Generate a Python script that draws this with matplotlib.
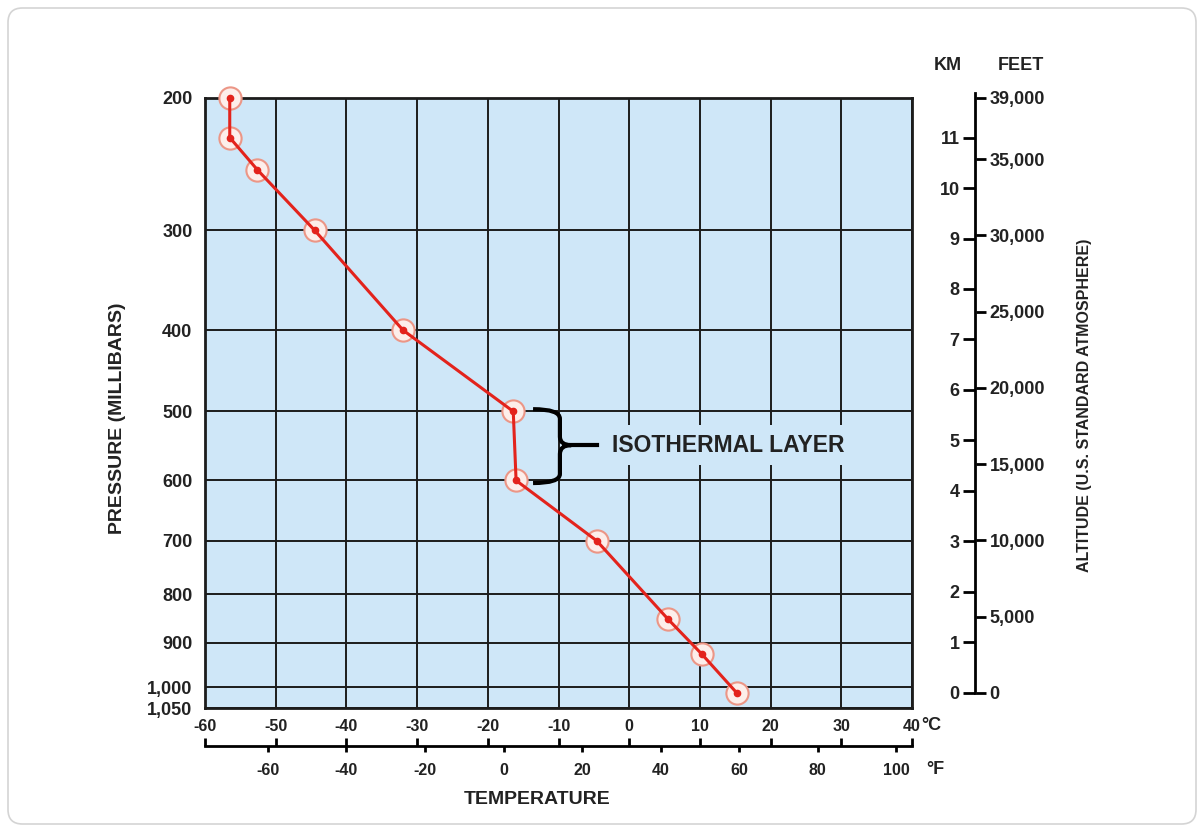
import numpy as np
import matplotlib
matplotlib.use("Agg")
import matplotlib.pyplot as plt
from matplotlib.path import Path
from matplotlib.patches import PathPatch, FancyBboxPatch

plt.rcParams['font.family'] = ['Liberation Sans', 'DejaVu Sans']
plt.rcParams['font.weight'] = 'bold'

# sounding (standard atmosphere profile)
temps_c = [-56.5, -56.5, -52.6, -44.5, -32.0, -16.4, -16.0, -4.6, 5.5, 10.3, 15.2]
pressures = [200, 226.3, 250, 300, 400, 500, 600, 700, 850, 925, 1013.25]

p_ticks = [200, 300, 400, 500, 600, 700, 800, 900, 1000, 1050]
p_labels = ['200', '300', '400', '500', '600', '700', '800', '900', '1,000', '1,050']
c_ticks = [-60, -50, -40, -30, -20, -10, 0, 10, 20, 30, 40]
f_ticks = [-60, -40, -20, 0, 20, 40, 60, 80, 100]
km_ticks = list(range(0, 12))
ft_ticks = [0, 5000, 10000, 15000, 20000, 25000, 30000, 35000, 39000]

RED = '#e3231c'
BG = '#cfe7f8'
INK = '#222222'


def p_to_km(p):
    p = np.clip(np.asarray(p, float), 1e-6, None)
    tropo = 44.3308 * (1 - (p / 1013.25) ** 0.190263)
    strat = 11.0 + 6.3416 * np.log(226.32 / p)
    return np.where(p >= 226.32, tropo, strat)


def km_to_p(h):
    h = np.asarray(h, float)
    tropo = 1013.25 * np.clip(1 - h / 44.3308, 1e-9, None) ** (1 / 0.190263)
    strat = 226.32 * np.exp(-(h - 11.0) / 6.3416)
    return np.where(h <= 11.0, tropo, strat)


# increasing versions for the axis scale (axis is then inverted)
def fwd(p):
    return -p_to_km(p)


def inv(d):
    return km_to_p(-np.asarray(d, float))


W, H = 1204, 832
fig = plt.figure(figsize=(W / 100, H / 100), dpi=100)
fig.patches.append(FancyBboxPatch((8 / W, 8 / H), 1188 / W, 816 / H,
                                  boxstyle='round,pad=0,rounding_size=0.012',
                                  transform=fig.transFigure, fc='none',
                                  ec='#d4d4d4', lw=1.2, mutation_aspect=W / H))

x0, x1, y0, y1 = 205, 912, 98, 708
ax = fig.add_axes([x0 / W, 1 - y1 / H, (x1 - x0) / W, (y1 - y0) / H])
ax.set_facecolor(BG)
ax.set_yscale('function', functions=(fwd, inv))
ax.set_ylim(1050, 200)
ax.set_xlim(-60, 40)
ax.set_yticks(p_ticks, p_labels)
ax.yaxis.set_minor_locator(plt.NullLocator())
ax.set_xticks(c_ticks, [str(t) for t in c_ticks])
ax.tick_params(axis='y', length=0, pad=9, labelsize=13, labelcolor=INK)
ax.tick_params(axis='x', length=0, pad=8, labelsize=11.5, labelcolor=INK)
ax.grid(True, color='#1c1c1c', lw=1.4)
for s in ax.spines.values():
    s.set_linewidth(2)
    s.set_color('#1c1c1c')

ax.plot(temps_c, pressures, 'o', ms=16, mfc='#fdeeea', mec='#ec9686', mew=1.5,
        zorder=3, clip_on=False)
ax.plot(temps_c, pressures, color=RED, lw=2.2, zorder=4, clip_on=False)
ax.plot(temps_c, pressures, 'o', ms=4.5, color=RED, zorder=5, clip_on=False)

# brace for the isothermal layer
verts = [(-13.6, 497), (-9.8, 497), (-9.8, 510), (-9.8, 535),
         (-9.8, 547), (-8.2, 547), (-9.8, 547), (-9.8, 560),
         (-9.8, 590), (-9.8, 604), (-13.6, 604)]
codes = [Path.MOVETO, Path.CURVE3, Path.CURVE3, Path.LINETO,
         Path.CURVE3, Path.CURVE3, Path.CURVE3, Path.CURVE3,
         Path.LINETO, Path.CURVE3, Path.CURVE3]
ax.add_patch(PathPatch(Path(verts, codes), fc='none', ec='black', lw=3, zorder=6))
ax.plot([-8.2, -4.6], [547, 547], color='black', lw=3, zorder=6)
ax.text(-2.4, 547, 'ISOTHERMAL LAYER', fontsize=16.5, color=INK, va='center',
        ha='left', zorder=6,
        bbox=dict(fc=BG, ec='none', pad=6))

# fahrenheit / celsius scale below the plot
ax_f = fig.add_axes([x0 / W, 1 - 746 / H, (x1 - x0) / W, 0.001])
ax_f.patch.set_visible(False)
ax_f.set_xlim(-76, 104)
ax_f.set_yticks([])
for k in ['top', 'left', 'right']:
    ax_f.spines[k].set_visible(False)
ax_f.spines['bottom'].set_linewidth(2)
ax_f.set_xticks(f_ticks, [str(t) for t in f_ticks])
ax_f.tick_params(axis='x', direction='out', length=4, width=2, pad=8,
                 labelsize=11.5, labelcolor=INK)
ax_c = ax_f.twiny()
ax_c.set_xlim(-60, 40)
ax_c.xaxis.set_ticks_position('bottom')
ax_c.set_xticks(c_ticks)
ax_c.tick_params(axis='x', direction='in', length=6, width=2, labelbottom=False,
                 labeltop=False)
for s in ax_c.spines.values():
    s.set_visible(False)

# altitude scale on the right
km_lo, km_hi = float(p_to_km(1050)), float(p_to_km(200))
ax_k = fig.add_axes([975 / W, 1 - y1 / H, 0.0005, (y1 - y0) / H])
ax_k.patch.set_visible(False)
ax_k.set_ylim(km_lo, km_hi)
ax_k.set_xticks([])
for k in ['top', 'bottom', 'right']:
    ax_k.spines[k].set_visible(False)
ax_k.spines['left'].set_linewidth(2)
ax_k.spines['left'].set_bounds(0, 39000 * 0.0003048)
ax_k.set_yticks(km_ticks, [str(t) for t in km_ticks])
ax_k.tick_params(axis='y', direction='out', length=9, width=2, pad=2,
                 labelsize=13, labelcolor=INK)
ax_ft = ax_k.twinx()
ax_ft.set_ylim(km_lo * 3280.84, km_hi * 3280.84)
for s in ax_ft.spines.values():
    s.set_visible(False)
ax_ft.set_yticks(ft_ticks, [f'{t:,}' for t in ft_ticks])
ax_ft.tick_params(axis='y', direction='out', length=7, width=2, pad=3,
                  labelsize=13, labelcolor=INK)

fig.text(118 / W, 1 - 418 / H, 'PRESSURE (MILLIBARS)', rotation=90, fontsize=14,
         color=INK, ha='center', va='center')
fig.text(537 / W, 1 - 800 / H, 'TEMPERATURE', fontsize=14, color=INK,
         ha='center', va='center')
fig.text(1085 / W, 1 - 405 / H, 'ALTITUDE (U.S. STANDARD ATMOSPHERE)', rotation=90,
         fontsize=11.5, color=INK, ha='center', va='center')
fig.text(948 / W, 1 - 65 / H, 'KM', fontsize=13, color=INK, ha='center', va='center')
fig.text(1021 / W, 1 - 65 / H, 'FEET', fontsize=13, color=INK, ha='center', va='center')
fig.text(921 / W, 1 - 725 / H, '°C', fontsize=13, color=INK, ha='left', va='center')
fig.text(926 / W, 1 - 770 / H, '°F', fontsize=13, color=INK, ha='left', va='center')

fig.savefig('out.png', dpi=100)
